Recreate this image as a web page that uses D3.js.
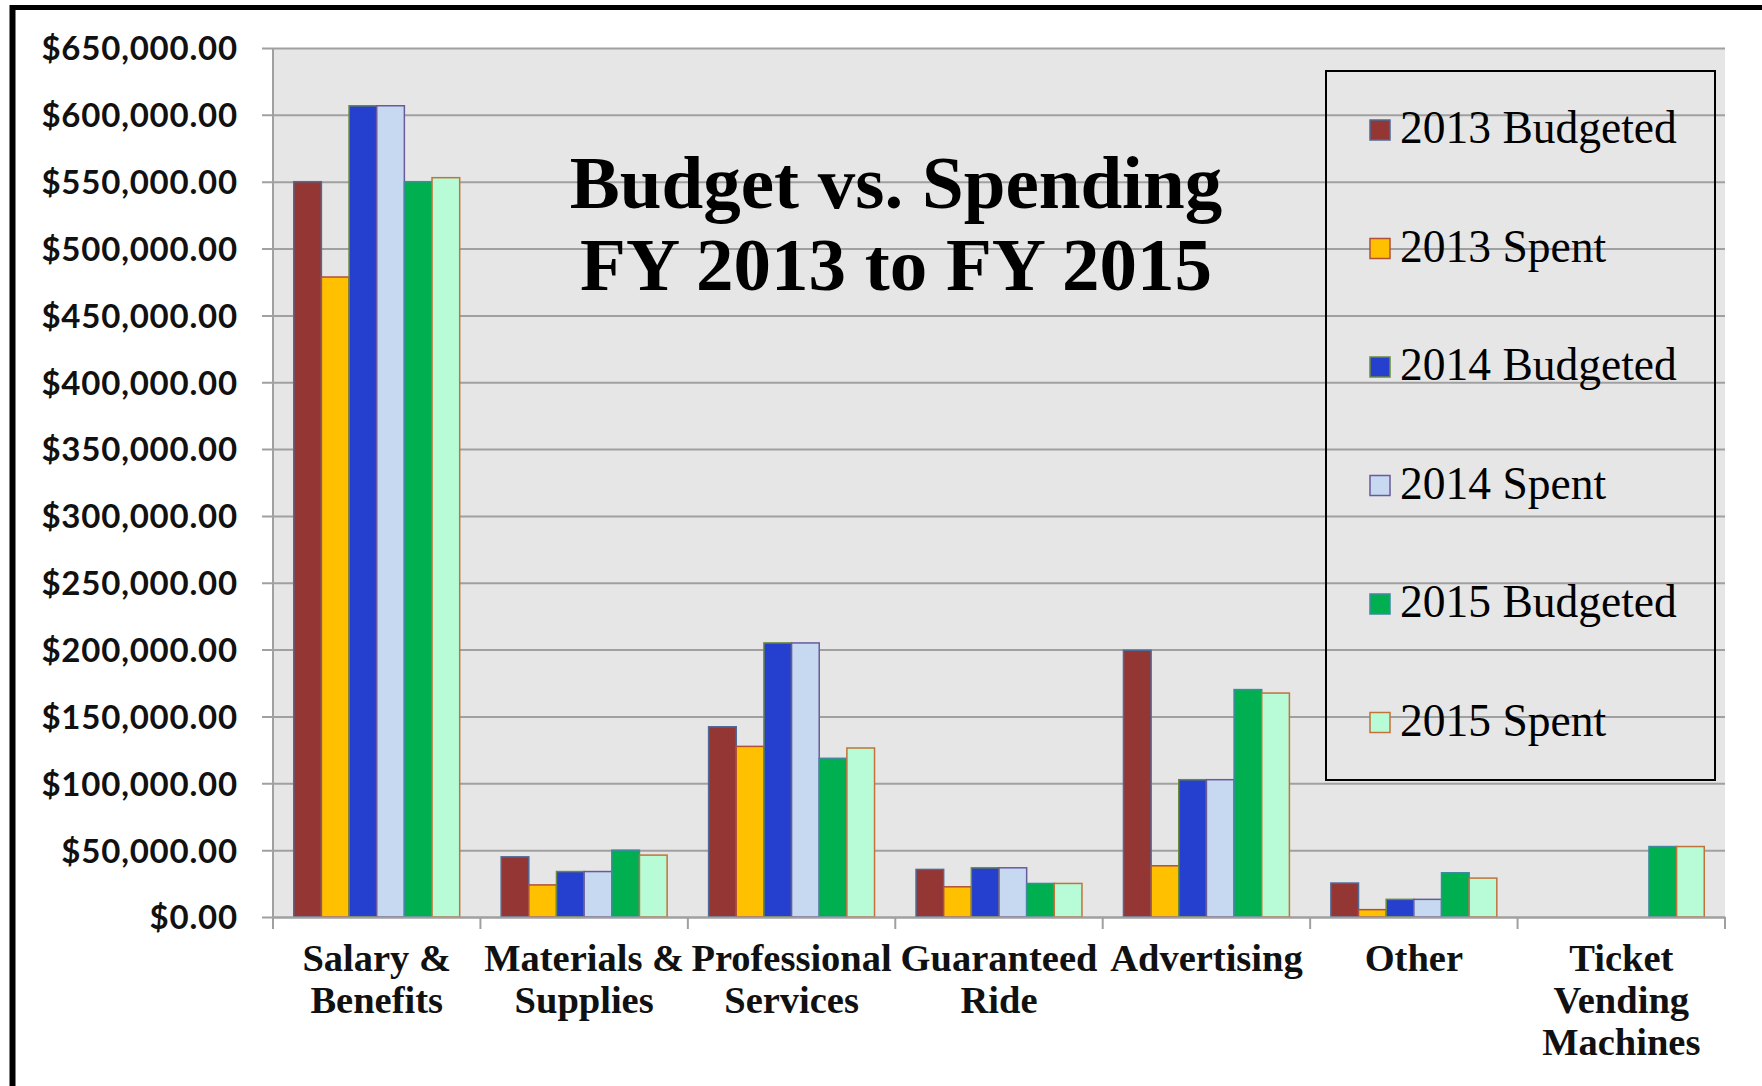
<!DOCTYPE html>
<html>
<head>
<meta charset="utf-8">
<script src="https://cdn.jsdelivr.net/npm/d3@7"></script>
<style>
    body { margin: 0; background: #fff; }
    svg { display: block; }
</style>
</head>
<body>
<div id="chart"></div>
<script>
// Categories (line breaks as drawn under the axis)
const categories = [
    ['Salary &', 'Benefits'],
    ['Materials &', 'Supplies'],
    ['Professional', 'Services'],
    ['Guaranteed', 'Ride'],
    ['Advertising'],
    ['Other'],
    ['Ticket', 'Vending', 'Machines']
];

const seriesNames = ['2013 Budgeted', '2013 Spent', '2014 Budgeted', '2014 Spent', '2015 Budgeted', '2015 Spent'];

// Values, in dollars
const budgeted2013 = [550000, 45000, 142300, 35600, 199500, 25400, 0];
const spent2013 = [478700, 24000, 127600, 22600, 38300, 5500, 0];
const budgeted2014 = [606800, 34000, 205000, 36800, 102700, 13200, 0];
const spent2014 = [606800, 34000, 205000, 36800, 102700, 13200, 0];
const budgeted2015 = [550000, 50000, 118700, 25100, 170100, 33100, 52700];
const spent2015 = [553000, 46300, 126400, 25100, 167500, 29100, 52700];

const yTicks = [0, 50000, 100000, 150000, 200000, 250000, 300000, 350000, 400000, 450000, 500000, 550000, 600000, 650000];

const titleLines = ['Budget vs. Spending', 'FY 2013 to FY 2015'];

let fills = ['#943634', '#ffc000', '#2540cf', '#c6d9f1', '#00b050', '#b7fcd6'],
    strokes = ['#4f6a96', '#b0503a', '#6a8a3a', '#6a5a9a', '#3f8aa0', '#c0733a'],
    width = 1762,
    height = 1086,
    plot = { left: 273, right: 1725, top: 48, bottom: 917 },
    allSeries = [budgeted2013, spent2013, budgeted2014, spent2014, budgeted2015, spent2015];

let svg = d3.select('#chart')
    .append('svg')
    .attr('width', width)
    .attr('height', height);

// Frame lines (top and left)
svg.append('line')
    .attr('x1', 10).attr('x2', width)
    .attr('y1', 7.5).attr('y2', 7.5)
    .attr('stroke', '#000').attr('stroke-width', 5);
svg.append('line')
    .attr('x1', 12.5).attr('x2', 12.5)
    .attr('y1', 5).attr('y2', height)
    .attr('stroke', '#000').attr('stroke-width', 6);

// Scales
let x0 = d3.scaleBand()
    .domain(d3.range(categories.length))
    .range([plot.left, plot.right])
    .padding(0);

let x1 = d3.scaleBand()
    .domain(d3.range(seriesNames.length))
    .range([0, x0.bandwidth()])
    .paddingInner(0)
    .paddingOuter(0.75);

let y = d3.scaleLinear()
    .domain([0, 650000])
    .range([plot.bottom, plot.top]);

// Plot background
svg.append('rect')
    .attr('x', plot.left)
    .attr('y', plot.top)
    .attr('width', plot.right - plot.left)
    .attr('height', plot.bottom - plot.top)
    .attr('fill', '#e6e6e6');

// Y axis with gridlines
let money = d3.format('$,.2f');
let yAxis = d3.axisLeft(y)
    .tickValues(yTicks)
    .tickSize(-(plot.right - plot.left) - 11)
    .tickPadding(0)
    .tickFormat(money);

let yg = svg.append('g')
    .attr('transform', 'translate(' + (plot.right) + ',0)')
    .call(yAxis);
yg.select('.domain').remove();
yg.selectAll('.tick line')
    .attr('x1', 0)
    .attr('x2', -(plot.right - plot.left) - 11)
    .attr('stroke', '#a0a0a0')
    .attr('stroke-width', 2);
yg.selectAll('.tick text')
    .attr('x', -(plot.right - plot.left) - 35)
    .attr('dy', '0.36em')
    .attr('fill', '#111')
    .style('font-family', 'Lato, sans-serif')
    .style('font-weight', 700)
    .style('font-size', '33px')
    .style('letter-spacing', '0.8px');

// Y axis line
svg.append('line')
    .attr('x1', plot.left).attr('x2', plot.left)
    .attr('y1', plot.top).attr('y2', plot.bottom)
    .attr('stroke', '#a0a0a0').attr('stroke-width', 2);

// Bars
let groups = svg.append('g')
    .selectAll('g')
    .data(categories)
    .enter()
    .append('g')
    .attr('transform', function(d, i) { return 'translate(' + x0(i) + ',0)'; });

groups.selectAll('rect')
    .data(function(d, i) {
        return allSeries.map(function(s, k) { return { k: k, value: s[i] }; })
            .filter(function(e) { return e.value > 0; });
    })
    .enter()
    .append('rect')
    .attr('x', function(d) { return x1(d.k); })
    .attr('y', function(d) { return y(d.value); })
    .attr('width', x1.bandwidth())
    .attr('height', function(d) { return y(0) - y(d.value); })
    .attr('fill', function(d) { return fills[d.k]; })
    .attr('stroke', function(d) { return strokes[d.k]; })
    .attr('stroke-width', 1.5);

// X axis
let xAxis = d3.axisBottom(x0)
    .tickValues([])
    .tickSizeOuter(0);
let xg = svg.append('g')
    .attr('transform', 'translate(0,' + plot.bottom + ')')
    .call(xAxis);
xg.select('.domain')
    .attr('stroke', '#a0a0a0')
    .attr('stroke-width', 2);

// boundary ticks between categories
let boundaries = d3.range(categories.length + 1).map(function(i) {
    return i < categories.length ? x0(i) : x0.range()[1];
});
xg.selectAll('.bound')
    .data(boundaries)
    .enter()
    .append('line')
    .attr('class', 'bound')
    .attr('x1', function(d) { return d; })
    .attr('x2', function(d) { return d; })
    .attr('y1', 0)
    .attr('y2', 12)
    .attr('stroke', '#a0a0a0')
    .attr('stroke-width', 2);

// Category labels
let labels = svg.append('g')
    .selectAll('text')
    .data(categories)
    .enter()
    .append('text')
    .attr('text-anchor', 'middle')
    .attr('fill', '#111')
    .style('font-family', '"Liberation Serif", "Times New Roman", serif')
    .style('font-weight', 700)
    .style('font-size', '38.5px');
labels.selectAll('tspan')
    .data(function(d, i) { return d.map(function(line) { return { line: line, i: i }; }); })
    .enter()
    .append('tspan')
    .attr('x', function(d) { return x0(d.i) + x0.bandwidth() / 2; })
    .attr('y', function(d, j) { return 971 + j * 42; })
    .text(function(d) { return d.line; });

// Title
svg.append('g')
    .selectAll('text')
    .data(titleLines)
    .enter()
    .append('text')
    .attr('x', 896)
    .attr('y', function(d, i) { return 208 + i * 82; })
    .attr('text-anchor', 'middle')
    .attr('fill', '#000')
    .style('font-family', '"Liberation Serif", "Times New Roman", serif')
    .style('font-weight', 700)
    .style('font-size', '75px')
    .text(function(d) { return d; });

// Legend
let legend = svg.append('g')
    .attr('class', 'legend');
legend.append('rect')
    .attr('x', 1326)
    .attr('y', 71)
    .attr('width', 1715 - 1326)
    .attr('height', 780 - 71)
    .attr('fill', 'none')
    .attr('stroke', '#000')
    .attr('stroke-width', 2);

let item = legend.selectAll('.item')
    .data(seriesNames)
    .enter()
    .append('g')
    .attr('class', 'item')
    .attr('transform', function(d, i) { return 'translate(1370,' + (130 + i * 118.5) + ')'; });
item.append('rect')
    .attr('x', 0)
    .attr('y', -10)
    .attr('width', 20)
    .attr('height', 20)
    .attr('fill', function(d, i) { return fills[i]; })
    .attr('stroke', function(d, i) { return strokes[i]; })
    .attr('stroke-width', 1.5);
item.append('text')
    .attr('x', 30)
    .attr('y', 13)
    .attr('fill', '#000')
    .style('font-family', '"Liberation Serif", "Times New Roman", serif')
    .style('font-size', '45.5px')
    .text(function(d) { return d; });
</script>
</body>
</html>
